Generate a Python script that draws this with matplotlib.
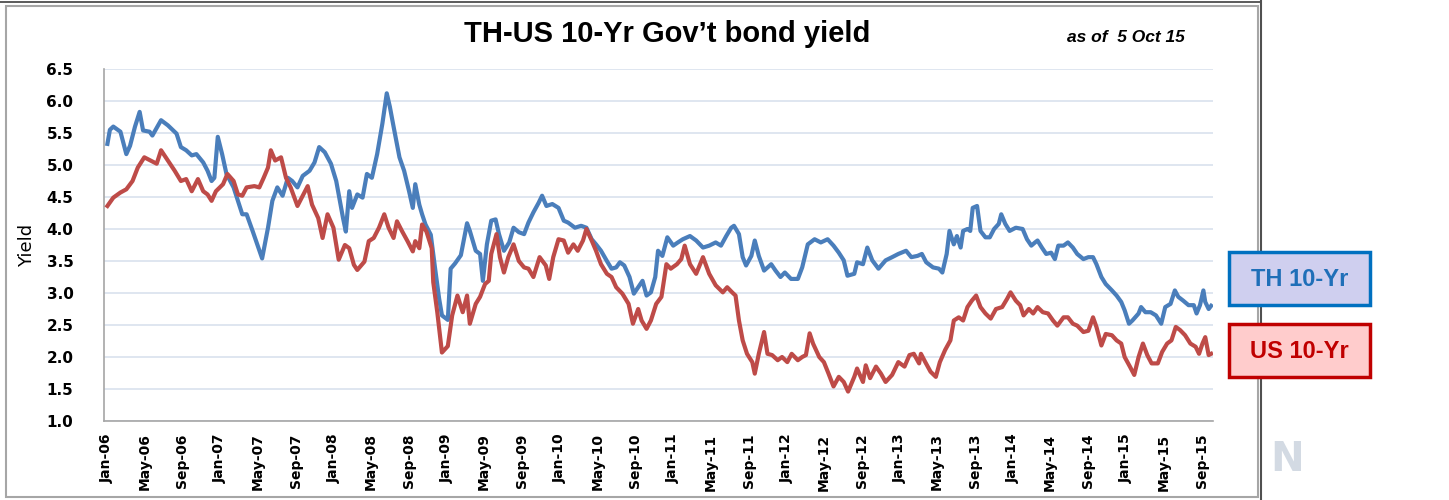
import matplotlib
matplotlib.use("Agg")
import matplotlib.pyplot as plt
import matplotlib.dates as mdates
from matplotlib.patches import Rectangle
from matplotlib.lines import Line2D
import pandas as pd

# Thai 10-year government bond yield (%)
th_dates = [
    "2006-01-02", "2006-01-10", "2006-01-21", "2006-02-13", "2006-03-04", "2006-03-16", "2006-04-01", "2006-04-16",
    "2006-04-27", "2006-05-18", "2006-05-27", "2006-06-24", "2006-07-16", "2006-08-13", "2006-08-27", "2006-09-13",
    "2006-10-01", "2006-10-16", "2006-11-07", "2006-11-21", "2006-12-04", "2006-12-13", "2006-12-24", "2007-01-07",
    "2007-01-21", "2007-02-13", "2007-02-27", "2007-03-13", "2007-03-27", "2007-04-16", "2007-05-01", "2007-05-16",
    "2007-06-04", "2007-06-18", "2007-07-04", "2007-07-21", "2007-08-07", "2007-08-21", "2007-09-07", "2007-09-24",
    "2007-10-16", "2007-11-01", "2007-11-16", "2007-12-04", "2007-12-24", "2008-01-10", "2008-01-18", "2008-02-01",
    "2008-02-10", "2008-02-21", "2008-03-01", "2008-03-18", "2008-04-04", "2008-04-18", "2008-05-04", "2008-05-21",
    "2008-06-07", "2008-06-21", "2008-07-01", "2008-07-13", "2008-08-01", "2008-08-16", "2008-09-01", "2008-09-13",
    "2008-09-21", "2008-10-04", "2008-10-13", "2008-10-24", "2008-11-10", "2008-11-24", "2008-12-07", "2008-12-16",
    "2009-01-04", "2009-01-13", "2009-01-27", "2009-02-15", "2009-03-07", "2009-03-16", "2009-04-04", "2009-04-18",
    "2009-04-27", "2009-05-10", "2009-05-24", "2009-06-07", "2009-06-18", "2009-07-04", "2009-07-21", "2009-08-04",
    "2009-08-21", "2009-09-07", "2009-09-21", "2009-10-07", "2009-10-24", "2009-11-04", "2009-11-18", "2009-12-07",
    "2009-12-27", "2010-01-13", "2010-01-27", "2010-02-18", "2010-03-10", "2010-03-27", "2010-04-13", "2010-04-27",
    "2010-05-13", "2010-06-01", "2010-06-16", "2010-07-01", "2010-07-13", "2010-07-27", "2010-08-13", "2010-08-27",
    "2010-09-10", "2010-09-24", "2010-10-07", "2010-10-21", "2010-11-04", "2010-11-13", "2010-11-27", "2010-12-13",
    "2011-01-01", "2011-01-16", "2011-02-01", "2011-02-24", "2011-03-16", "2011-04-07", "2011-04-27", "2011-05-18",
    "2011-06-04", "2011-06-21", "2011-07-07", "2011-07-16", "2011-08-01", "2011-08-13", "2011-08-24", "2011-09-10",
    "2011-09-21", "2011-10-04", "2011-10-21", "2011-11-13", "2011-11-27", "2011-12-13", "2011-12-27", "2012-01-16",
    "2012-02-07", "2012-02-21", "2012-03-10", "2012-04-01", "2012-04-21", "2012-05-13", "2012-06-01", "2012-06-18",
    "2012-07-04", "2012-07-16", "2012-08-07", "2012-08-16", "2012-09-04", "2012-09-18", "2012-10-04", "2012-10-24",
    "2012-11-16", "2012-12-07", "2012-12-27", "2013-01-21", "2013-02-07", "2013-02-27", "2013-03-13", "2013-03-27",
    "2013-04-18", "2013-05-07", "2013-05-18", "2013-06-01", "2013-06-10", "2013-06-24", "2013-07-04", "2013-07-16",
    "2013-07-24", "2013-08-07", "2013-08-16", "2013-08-24", "2013-09-07", "2013-09-18", "2013-10-04", "2013-10-18",
    "2013-11-01", "2013-11-16", "2013-11-24", "2013-12-07", "2013-12-21", "2014-01-10", "2014-02-01", "2014-02-15",
    "2014-03-01", "2014-03-13", "2014-03-21", "2014-04-04", "2014-04-18", "2014-05-04", "2014-05-16", "2014-05-27",
    "2014-06-13", "2014-06-27", "2014-07-13", "2014-07-27", "2014-08-16", "2014-09-01", "2014-09-16", "2014-09-27",
    "2014-10-13", "2014-10-27", "2014-11-16", "2014-12-01", "2014-12-16", "2014-12-27", "2015-01-10", "2015-01-21",
    "2015-02-10", "2015-02-18", "2015-03-04", "2015-03-21", "2015-04-07", "2015-04-24", "2015-05-07", "2015-05-24",
    "2015-06-07", "2015-06-18", "2015-07-04", "2015-07-21", "2015-08-07", "2015-08-16", "2015-08-27", "2015-09-07",
    "2015-09-13", "2015-09-24", "2015-10-02",
]
th_yield = [
    5.33, 5.55, 5.60, 5.52, 5.17, 5.30, 5.60, 5.83, 5.54, 5.52, 5.46, 5.70, 5.62, 5.49, 5.28, 5.23,
    5.15, 5.17, 5.04, 4.91, 4.75, 4.80, 5.44, 5.17, 4.86, 4.65, 4.44, 4.23, 4.23, 3.96, 3.75, 3.54,
    4.02, 4.44, 4.65, 4.52, 4.80, 4.75, 4.65, 4.83, 4.91, 5.04, 5.28, 5.20, 5.02, 4.75, 4.54, 4.17,
    3.96, 4.59, 4.33, 4.54, 4.49, 4.86, 4.80, 5.17, 5.65, 6.12, 5.91, 5.60, 5.12, 4.91, 4.59, 4.33,
    4.70, 4.38, 4.23, 4.07, 3.91, 3.38, 2.91, 2.65, 2.58, 3.38, 3.46, 3.59, 4.09, 3.97, 3.66, 3.61,
    3.19, 3.76, 4.13, 4.15, 3.92, 3.66, 3.79, 4.02, 3.95, 3.92, 4.10, 4.26, 4.41, 4.52, 4.36, 4.39,
    4.33, 4.13, 4.10, 4.02, 4.05, 4.02, 3.84, 3.76, 3.66, 3.50, 3.38, 3.40, 3.48, 3.43, 3.25, 2.99,
    3.09, 3.19, 2.96, 3.01, 3.25, 3.66, 3.58, 3.87, 3.74, 3.79, 3.84, 3.89, 3.82, 3.71, 3.74, 3.79,
    3.74, 3.89, 4.02, 4.05, 3.92, 3.56, 3.43, 3.58, 3.82, 3.58, 3.35, 3.45, 3.35, 3.25, 3.32, 3.22,
    3.22, 3.40, 3.76, 3.84, 3.79, 3.84, 3.74, 3.63, 3.51, 3.27, 3.30, 3.48, 3.45, 3.71, 3.51, 3.38,
    3.51, 3.56, 3.61, 3.66, 3.56, 3.58, 3.61, 3.48, 3.40, 3.38, 3.32, 3.61, 3.97, 3.76, 3.89, 3.71,
    3.97, 4.00, 3.97, 4.33, 4.36, 3.97, 3.87, 3.87, 4.00, 4.08, 4.23, 4.08, 3.97, 4.02, 4.00, 3.84,
    3.74, 3.79, 3.82, 3.71, 3.61, 3.63, 3.53, 3.74, 3.74, 3.79, 3.71, 3.61, 3.53, 3.56, 3.56, 3.45,
    3.25, 3.14, 3.04, 2.96, 2.86, 2.73, 2.52, 2.57, 2.68, 2.78, 2.70, 2.70, 2.65, 2.52, 2.78, 2.83,
    3.04, 2.94, 2.88, 2.81, 2.81, 2.68, 2.81, 3.04, 2.86, 2.75, 2.80,
]

# US 10-year Treasury yield (%)
us_dates = [
    "2006-01-02", "2006-01-21", "2006-02-13", "2006-03-04", "2006-03-24", "2006-04-10", "2006-05-01", "2006-05-21",
    "2006-06-10", "2006-06-24", "2006-07-16", "2006-08-07", "2006-08-27", "2006-09-13", "2006-10-01", "2006-10-21",
    "2006-11-07", "2006-11-21", "2006-12-04", "2006-12-18", "2007-01-10", "2007-01-24", "2007-02-13", "2007-02-27",
    "2007-03-13", "2007-03-27", "2007-04-21", "2007-05-07", "2007-05-21", "2007-06-04", "2007-06-13", "2007-06-27",
    "2007-07-16", "2007-08-01", "2007-08-16", "2007-09-07", "2007-09-24", "2007-10-10", "2007-10-24", "2007-11-13",
    "2007-11-27", "2007-12-13", "2008-01-01", "2008-01-18", "2008-02-07", "2008-02-21", "2008-03-07", "2008-03-18",
    "2008-04-10", "2008-04-24", "2008-05-10", "2008-05-27", "2008-06-13", "2008-06-27", "2008-07-13", "2008-07-24",
    "2008-08-10", "2008-08-27", "2008-09-13", "2008-09-21", "2008-10-04", "2008-10-13", "2008-10-27", "2008-11-13",
    "2008-11-18", "2008-12-01", "2008-12-16", "2009-01-04", "2009-01-18", "2009-02-04", "2009-02-21", "2009-03-07",
    "2009-03-16", "2009-04-04", "2009-04-18", "2009-05-04", "2009-05-16", "2009-05-24", "2009-06-10", "2009-06-21",
    "2009-07-04", "2009-07-18", "2009-08-04", "2009-08-21", "2009-09-07", "2009-09-21", "2009-10-07", "2009-10-27",
    "2009-11-16", "2009-11-27", "2009-12-10", "2009-12-27", "2010-01-13", "2010-01-27", "2010-02-13", "2010-02-27",
    "2010-03-16", "2010-03-27", "2010-04-13", "2010-04-27", "2010-05-13", "2010-06-01", "2010-06-16", "2010-07-01",
    "2010-07-21", "2010-08-10", "2010-08-24", "2010-09-10", "2010-09-21", "2010-10-07", "2010-10-21", "2010-11-07",
    "2010-11-24", "2010-12-10", "2010-12-24", "2011-01-13", "2011-01-27", "2011-02-07", "2011-02-24", "2011-03-16",
    "2011-04-07", "2011-04-27", "2011-05-18", "2011-06-10", "2011-06-24", "2011-07-10", "2011-07-21", "2011-08-01",
    "2011-08-13", "2011-08-27", "2011-09-13", "2011-09-21", "2011-10-04", "2011-10-21", "2011-11-01", "2011-11-16",
    "2011-12-04", "2011-12-18", "2012-01-04", "2012-01-18", "2012-02-07", "2012-02-21", "2012-03-04", "2012-03-16",
    "2012-03-27", "2012-04-16", "2012-05-01", "2012-05-16", "2012-06-01", "2012-06-18", "2012-07-04", "2012-07-18",
    "2012-08-07", "2012-08-16", "2012-09-04", "2012-09-13", "2012-09-27", "2012-10-16", "2012-11-01", "2012-11-16",
    "2012-12-07", "2012-12-27", "2013-01-16", "2013-02-01", "2013-02-15", "2013-03-04", "2013-03-10", "2013-03-24",
    "2013-04-10", "2013-04-27", "2013-05-10", "2013-05-27", "2013-06-13", "2013-06-24", "2013-07-10", "2013-07-24",
    "2013-08-07", "2013-08-21", "2013-09-04", "2013-09-18", "2013-10-04", "2013-10-21", "2013-11-07", "2013-11-27",
    "2013-12-13", "2013-12-24", "2014-01-10", "2014-01-24", "2014-02-04", "2014-02-21", "2014-03-07", "2014-03-21",
    "2014-04-07", "2014-04-24", "2014-05-10", "2014-05-24", "2014-06-13", "2014-06-27", "2014-07-13", "2014-07-27",
    "2014-08-16", "2014-09-01", "2014-09-16", "2014-09-27", "2014-10-13", "2014-10-27", "2014-11-16", "2014-12-01",
    "2014-12-16", "2014-12-27", "2015-01-13", "2015-01-27", "2015-02-10", "2015-02-24", "2015-03-10", "2015-03-24",
    "2015-04-13", "2015-04-27", "2015-05-13", "2015-05-27", "2015-06-10", "2015-06-24", "2015-07-10", "2015-07-27",
    "2015-08-13", "2015-08-24", "2015-09-04", "2015-09-13", "2015-09-24", "2015-10-02",
]
us_yield = [
    4.36, 4.49, 4.57, 4.62, 4.75, 4.96, 5.12, 5.07, 5.02, 5.23, 5.07, 4.91, 4.75, 4.78, 4.59, 4.78,
    4.59, 4.54, 4.44, 4.59, 4.70, 4.86, 4.75, 4.54, 4.52, 4.65, 4.67, 4.65, 4.80, 4.96, 5.23, 5.07,
    5.12, 4.80, 4.65, 4.36, 4.52, 4.67, 4.38, 4.17, 3.86, 4.23, 4.02, 3.52, 3.75, 3.70, 3.44, 3.36,
    3.49, 3.81, 3.86, 4.02, 4.23, 4.02, 3.86, 4.12, 3.96, 3.81, 3.65, 3.81, 3.70, 4.07, 3.96, 3.70,
    3.17, 2.70, 2.07, 2.17, 2.65, 2.96, 2.70, 2.96, 2.52, 2.83, 2.94, 3.14, 3.19, 3.61, 3.92, 3.56,
    3.32, 3.56, 3.76, 3.50, 3.40, 3.38, 3.25, 3.56, 3.43, 3.22, 3.56, 3.84, 3.82, 3.63, 3.76, 3.66,
    3.82, 4.00, 3.82, 3.66, 3.45, 3.30, 3.25, 3.09, 2.99, 2.83, 2.52, 2.75, 2.57, 2.44, 2.57, 2.83,
    2.94, 3.45, 3.38, 3.45, 3.53, 3.74, 3.45, 3.30, 3.56, 3.30, 3.12, 3.01, 3.09, 3.01, 2.96, 2.57,
    2.26, 2.05, 1.92, 1.74, 2.05, 2.39, 2.05, 2.03, 1.95, 2.00, 1.92, 2.05, 1.95, 2.00, 2.03, 2.37,
    2.21, 2.00, 1.92, 1.74, 1.54, 1.69, 1.61, 1.46, 1.69, 1.82, 1.61, 1.87, 1.67, 1.85, 1.74, 1.61,
    1.72, 1.92, 1.85, 2.03, 2.05, 1.90, 2.05, 1.92, 1.77, 1.69, 1.92, 2.11, 2.26, 2.57, 2.62, 2.57,
    2.78, 2.88, 2.96, 2.78, 2.68, 2.60, 2.75, 2.78, 2.91, 3.01, 2.88, 2.81, 2.65, 2.75, 2.68, 2.78,
    2.70, 2.68, 2.57, 2.49, 2.62, 2.62, 2.52, 2.49, 2.39, 2.41, 2.62, 2.47, 2.18, 2.36, 2.34, 2.26,
    2.21, 2.00, 1.85, 1.72, 2.00, 2.21, 2.03, 1.90, 1.90, 2.08, 2.21, 2.26, 2.47, 2.42, 2.34, 2.21,
    2.16, 2.05, 2.21, 2.31, 2.03, 2.05,
]

series_names = ["TH 10-Yr", "US 10-Yr"]
y_ticks = [1.0, 1.5, 2.0, 2.5, 3.0, 3.5, 4.0, 4.5, 5.0, 5.5, 6.0, 6.5]

W, H = 1449, 500
blue = "#4A7EBB"
red = "#BE4B48"


def fx(px):
    return px / W


def fy(py):
    return 1 - py / H


fig = plt.figure(figsize=(W / 100, H / 100), dpi=100)
fig.patch.set_facecolor("white")

# frame around the chart
fig.add_artist(Rectangle((fx(6), fy(497)), fx(1258) - fx(6), fy(6) - fy(497),
                         fill=False, edgecolor="#A6A6A6", lw=1.5, transform=fig.transFigure))
fig.add_artist(Line2D([0, fx(1261)], [fy(2), fy(2)], color="#404040", lw=1.2, transform=fig.transFigure))
fig.add_artist(Line2D([fx(1261), fx(1261)], [0, 1], color="#505050", lw=1.5, transform=fig.transFigure))

ax = fig.add_axes([fx(104), fy(421), fx(1213) - fx(104), fy(69) - fy(421)])

th_x = pd.to_datetime(th_dates)
us_x = pd.to_datetime(us_dates)
ax.plot(th_x, th_yield, color=blue, lw=3.0, solid_joinstyle="round", zorder=3)
ax.plot(us_x, us_yield, color=red, lw=3.0, solid_joinstyle="round", zorder=3)

ax.set_ylim(1.0, 6.5)
ax.set_yticks(y_ticks)
ax.set_yticklabels(["%.1f" % t for t in y_ticks], fontsize=11, fontweight="bold")
ax.set_xlim(pd.Timestamp("2005-12-22"), pd.Timestamp("2015-10-08"))
ax.xaxis.set_major_locator(mdates.MonthLocator(bymonth=[1, 5, 9]))
ax.xaxis.set_major_formatter(mdates.DateFormatter("%b-%y"))
for lab in ax.get_xticklabels():
    lab.set_rotation(90)
    lab.set_fontsize(10)
    lab.set_fontweight("bold")
ax.tick_params(axis="x", length=0, pad=9)
ax.tick_params(axis="y", length=0, pad=22)

ax.grid(axis="y", color="#D9E1EE", lw=1.2)
ax.set_axisbelow(True)
for s in ["top", "right"]:
    ax.spines[s].set_visible(False)
ax.spines["left"].set_color("#A6A6A6")
ax.spines["bottom"].set_color("#A6A6A6")
ax.spines["left"].set_linewidth(1.2)
ax.spines["bottom"].set_linewidth(1.2)

fig.text(fx(27), fy(245), "Yield", rotation=90, ha="center", va="center", fontsize=13)
fig.text(fx(667), fy(34), "TH-US 10-Yr Gov\u2019t bond yield", ha="center", va="center",
         fontsize=21, fontweight="bold", family="Liberation Sans")
fig.text(fx(1067), fy(37), "as of  5 Oct 15", ha="left", va="center", fontsize=12.5,
         fontweight="bold", style="italic", family="Liberation Sans")

# series key boxes at the right
boxes = [(252, "#CFCFEF", "#0070C0", "#1F6FB8"), (324, "#FFCCCC", "#C00000", "#C00000")]
for name, (top, face, edge, tc) in zip(series_names, boxes):
    fig.add_artist(Rectangle((fx(1229), fy(top + 53)), fx(1370) - fx(1229), fy(top) - fy(top + 53),
                             facecolor=face, edgecolor=edge, lw=2.5, transform=fig.transFigure, zorder=5))
    fig.text(fx(1299.5), fy(top + 27), name, ha="center", va="center", fontsize=17,
             fontweight="bold", color=tc, family="Liberation Sans", zorder=6)

fig.text(fx(1287), fy(460), "N", ha="center", va="center", fontsize=29, fontweight="bold", color="#D3DAE3")

fig.savefig("out.png", dpi=100, facecolor="white")
